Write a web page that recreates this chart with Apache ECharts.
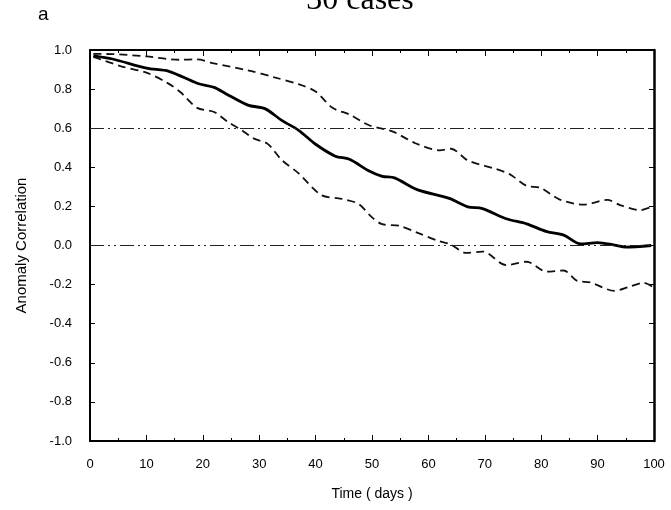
<!DOCTYPE html>
<html>
<head>
<meta charset="utf-8">
<script src="https://cdn.jsdelivr.net/npm/echarts@6/dist/echarts.min.js"></script>
<style>
  html, body { margin: 0; padding: 0; background: #fff; }
  #chart { width: 671px; height: 510px; }
</style>
</head>
<body>
<div id="chart"></div>
<script>
// x axis: time in days, y axis: anomaly correlation
const xTicks = [0, 10, 20, 30, 40, 50, 60, 70, 80, 90, 100]
const yTicks = [1.0, 0.8, 0.6, 0.4, 0.2, 0.0, -0.2, -0.4, -0.6, -0.8, -1.0]

// [day, value]
const meanCurve = [
  [0.6, 0.97], [4, 0.954], [10, 0.907], [14, 0.891], [19, 0.83], [22, 0.809],
  [24, 0.778], [28, 0.718], [31, 0.70], [34, 0.64], [37, 0.589], [40, 0.518],
  [43.5, 0.457], [46, 0.441], [49.5, 0.381], [51.8, 0.354], [54, 0.346], [58, 0.286],
  [63.7, 0.241], [67, 0.198], [69.6, 0.189], [73.8, 0.137], [77.4, 0.111], [81, 0.071],
  [84, 0.053], [87, 0.008], [90, 0.015], [93, 0.002], [95, -0.008], [99.5, 0.0]
]
const upperCurve = [
  [0.6, 0.98], [4, 0.979], [10, 0.967], [16, 0.95], [19, 0.952], [22, 0.931],
  [28, 0.896], [32.7, 0.86], [37, 0.825], [40, 0.788], [43, 0.704], [46, 0.67],
  [49.5, 0.615], [53.6, 0.584], [57.7, 0.523], [62, 0.487], [64, 0.495], [67, 0.435],
  [72, 0.391], [74.4, 0.365], [77.4, 0.305], [79.8, 0.296], [83.3, 0.235], [87.5, 0.209],
  [91.7, 0.233], [94, 0.207], [97.6, 0.181], [99.5, 0.197]
]
const lowerCurve = [
  [0.6, 0.965], [5.4, 0.918], [10, 0.884], [13.7, 0.832], [16, 0.785], [19, 0.704],
  [22, 0.683], [24.4, 0.633], [26.8, 0.592], [29, 0.548], [31.5, 0.52], [34, 0.437],
  [37, 0.369], [41, 0.258], [44.6, 0.239], [47.6, 0.213], [50, 0.144], [51.8, 0.109],
  [54.8, 0.101], [58, 0.066], [62, 0.021], [64, 0.005], [66.7, -0.038], [69.6, -0.031],
  [73.8, -0.1], [77.4, -0.083], [81, -0.134], [84, -0.128], [86.3, -0.18], [88.7, -0.189],
  [93, -0.232], [95.8, -0.209], [98.2, -0.191], [99.7, -0.21]
]
// reference levels
const refLevels = [0.6, 0.0]

const ec = echarts.init(document.getElementById('chart'))

const tickStyle = {color: '#000', width: 1}
const sans = 'Liberation Sans, Arial, sans-serif'
const labelFont = {color: '#000', fontSize: 13, fontFamily: sans}
const refStyle = {color: '#222', width: 1.2, type: [14, 4, 2, 4, 2, 4]}

ec.setOption({
  animation: false,
  graphic: [
    {
      type: 'text', x: 38, y: 5,
      style: {text: 'a', font: '19px ' + sans, fill: '#000'}
    },
    {
      type: 'text', x: 360, y: -15,
      style: {text: '30 cases', font: '32px Liberation Serif, serif', fill: '#000', textAlign: 'center'}
    }
  ],
  grid: {left: 90, right: 17, top: 50, bottom: 69},
  xAxis: [
    {
      type: 'value', min: 0, max: 100, interval: 10,
      name: 'Time ( days )', nameLocation: 'middle', nameGap: 46,
      nameTextStyle: {fontSize: 14, color: '#000', fontFamily: sans},
      axisLine: {onZero: false, lineStyle: {color: '#000', width: 2}},
      axisTick: {inside: true, length: 6, lineStyle: tickStyle},
      minorTick: {show: true, splitNumber: 2, length: 3, lineStyle: tickStyle},
      axisLabel: {...labelFont, margin: 17, formatter: v => xTicks.includes(v) ? String(v) : ''},
      splitLine: {show: false}
    },
    {
      type: 'value', min: 0, max: 100, interval: 10, position: 'top',
      axisLine: {onZero: false, lineStyle: {color: '#000', width: 2}},
      axisTick: {inside: true, length: 6, lineStyle: tickStyle},
      minorTick: {show: true, splitNumber: 2, length: 3, lineStyle: tickStyle},
      axisLabel: {show: false},
      splitLine: {show: false}
    }
  ],
  yAxis: [
    {
      type: 'value', min: -1, max: 1, interval: 0.2,
      name: 'Anomaly Correlation', nameLocation: 'middle', nameGap: 61,
      nameTextStyle: {fontSize: 15, color: '#000', fontFamily: sans},
      axisLine: {onZero: false, lineStyle: {color: '#000', width: 2}},
      axisTick: {inside: true, length: 5, lineStyle: tickStyle},
      axisLabel: {...labelFont, margin: 18, formatter: v => {
        const t = yTicks.find(k => Math.abs(k - v) < 1e-6)
        return t === undefined ? '' : t.toFixed(1)
      }},
      splitLine: {show: false}
    },
    {
      type: 'value', min: -1, max: 1, interval: 0.2, position: 'right',
      axisLine: {onZero: false, lineStyle: {color: '#000', width: 2.5}},
      axisTick: {inside: true, length: 5, lineStyle: tickStyle},
      axisLabel: {show: false},
      splitLine: {show: false}
    }
  ],
  series: [
    {
      name: 'upper', type: 'line', data: upperCurve, symbol: 'none', smooth: 0.3,
      lineStyle: {color: '#111', width: 1.8, type: [8, 5]},
      markLine: {
        silent: true, symbol: 'none', label: {show: false},
        lineStyle: refStyle,
        data: refLevels.map(v => ({yAxis: v}))
      }
    },
    {
      name: 'lower', type: 'line', data: lowerCurve, symbol: 'none', smooth: 0.3,
      lineStyle: {color: '#111', width: 1.8, type: [8, 5]}
    },
    {
      name: 'mean', type: 'line', data: meanCurve, symbol: 'none', smooth: 0.3,
      lineStyle: {color: '#000', width: 2.8}
    }
  ]
})
</script>
</body>
</html>
